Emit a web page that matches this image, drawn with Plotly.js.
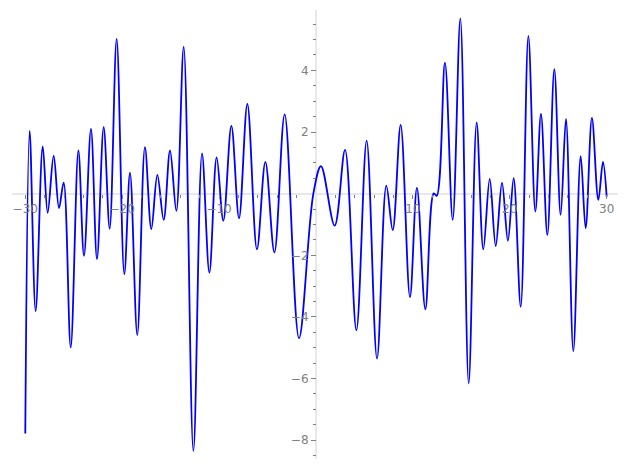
<!DOCTYPE html>
<html>
<head>
<meta charset="utf-8">
<script src="https://cdn.plot.ly/plotly-3.0.1.min.js"></script>
<style>html,body{margin:0;padding:0;background:#fff;}#chart{width:627px;height:470px;}</style>
</head>
<body>
<div id="chart"></div>
<script>
// Points (extrema and end points)
var xs = [-30, -29.55, -28.93, -28.2, -27.69, -27.07, -26.52, -26.04, -25.31, -24.52, -23.94, -23.22, -22.6, -21.91, -21.29, -20.57, -19.78, -19.19, -18.44, -17.65, -16.99, -16.37, -15.72, -15.06, -14.41, -13.65, -12.65, -11.76, -11.0, -10.25, -9.56, -8.73, -7.94, -7.08, -6.09, -5.22, -4.29, -3.23, -1.75, -0.27, 0.52, 1.93, 3.0, 4.17, 5.23, 6.30, 7.26, 7.92, 8.74, 9.70, 10.42, 11.29, 12.15, 12.46, 13.31, 14.11, 14.90, 15.76, 16.58, 17.27, 17.93, 18.55, 19.20, 19.81, 20.40, 21.13, 21.92, 22.64, 23.22, 23.88, 24.60, 25.25, 25.80, 26.56, 27.32, 27.83, 28.48, 29.14, 29.62, 30];
var ys = [-7.78, 2.04, -3.81, 1.53, -0.62, 1.23, -0.47, 0.36, -4.99, 1.40, -2.02, 2.10, -2.12, 2.16, -1.14, 5.02, -2.61, 0.68, -4.59, 1.51, -1.15, 0.61, -0.85, 1.40, -0.56, 4.76, -8.35, 1.31, -2.56, 1.18, -0.88, 2.20, -0.80, 2.91, -1.81, 1.03, -1.91, 2.57, -4.69, 0, 0.89, -1.04, 1.42, -4.43, 1.72, -5.35, 0.26, -1.18, 2.23, -3.36, 0.19, -3.75, 0.01, -0.07, 4.25, -0.85, 5.69, -6.16, 2.31, -1.81, 0.48, -1.70, 0.36, -1.53, 0.50, -3.67, 5.12, -0.58, 2.59, -1.34, 4.04, -0.69, 2.43, -5.11, 1.22, -1.12, 2.46, -0.20, 1.03, -0.10];

var xTicks = [-30, -20, -10, 10, 20, 30];
var yTicks = [-8, -6, -4, -2, 2, 4];
var xMinor = [-30, -28, -26, -24, -22, -20, -18, -16, -14, -12, -10, -8, -6, -4, -2, 2, 4, 6, 8, 10, 12, 14, 16, 18, 20, 22, 24, 26, 28, 30];
var yMinor = [-8.5, -8, -7.5, -7, -6.5, -6, -5.5, -5, -4.5, -4, -3.5, -3, -2.5, -2, -1.5, -1, -0.5, 0.5, 1, 1.5, 2, 2.5, 3, 3.5, 4, 4.5, 5, 5.5];

var xRange = [-31.37, 31.17];
var yRange = [-8.61, 5.96];
var xPos = (0 - yRange[0]) / (yRange[1] - yRange[0]);
var yPos = (0 - xRange[0]) / (xRange[1] - xRange[0]);

var trace = {
  x: xs, y: ys, type: 'scatter', mode: 'lines',
  line: {color: '#0000ff', width: 1.8, shape: 'spline', smoothing: 1},
  hoverinfo: 'none'
};

var tickFont = {family: 'DejaVu Sans, sans-serif', size: 12, color: '#808080'};

var layout = {
  width: 627, height: 470,
  margin: {l: 12, r: 9, t: 10, b: 11},
  paper_bgcolor: '#ffffff', plot_bgcolor: '#ffffff',
  showlegend: false,
  xaxis: {
    range: xRange, anchor: 'free', position: xPos,
    showgrid: false, showline: false,
    zeroline: true, zerolinecolor: '#e8e8e8', zerolinewidth: 2,
    tickmode: 'array', tickvals: xTicks,
    ticks: 'outside', ticklen: 4, tickwidth: 1, tickcolor: '#808080',
    minor: {tickmode: 'array', tickvals: xMinor, ticks: 'outside', ticklen: 3, tickcolor: '#808080', showgrid: false},
    tickfont: tickFont
  },
  yaxis: {
    range: yRange, anchor: 'free', position: yPos,
    showgrid: false, showline: false,
    zeroline: true, zerolinecolor: '#e8e8e8', zerolinewidth: 2,
    tickmode: 'array', tickvals: yTicks,
    ticks: 'outside', ticklen: 5, tickwidth: 1, tickcolor: '#808080',
    minor: {tickmode: 'array', tickvals: yMinor, ticks: 'outside', ticklen: 3, tickcolor: '#808080', showgrid: false},
    tickfont: tickFont
  }
};

Plotly.newPlot('chart', [trace], layout, {staticPlot: true, displayModeBar: false});
</script>
</body>
</html>
